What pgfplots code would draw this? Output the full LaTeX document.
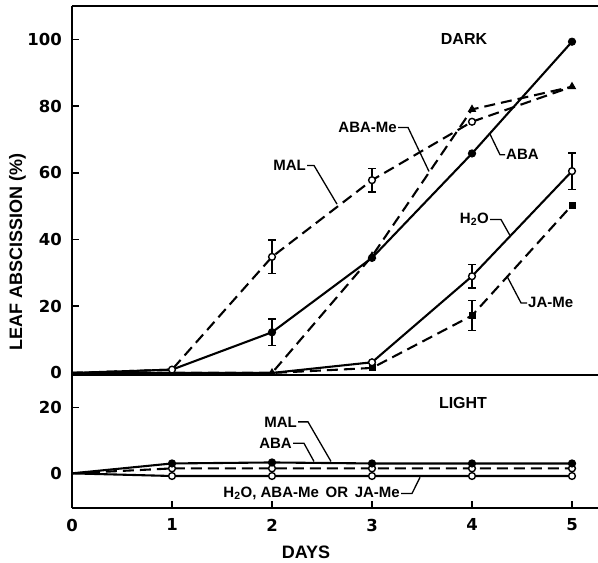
\documentclass[border=0pt]{standalone}
\usepackage{fontspec}
\setmainfont{Liberation Sans}
\newfontfamily\tickfont{DejaVu Sans}
\usepackage{pgfplots}
\pgfplotsset{compat=1.18}
\tikzset{
  ann/.style={font=\bfseries\fontsize{15bp}{15bp}\selectfont, inner sep=0pt},
  lead/.style={line width=1.3pt, black},
}
\pgfplotsset{
  panel/.style={
    scale only axis, width=526bp, xmin=0, xmax=5.26,
    axis x line*=box, axis y line*=left,
    axis line style={line width=2pt},
    tick align=inside, xtick pos=bottom, ytick pos=left,
    major tick length=7bp,
    tick style={line width=1.5pt, black},
    /pgf/number format/assume math mode=true,
    ticklabel style={font=\tickfont\bfseries\fontsize{16.5bp}{16.5bp}\selectfont, inner sep=0pt},
    yticklabel style={xshift=-10bp},
    xticklabel style={yshift=-11bp},
  },
  sl/.style={line width=2.1pt, black, solid},
  dl/.style={line width=2.1pt, black, dash pattern=on 11bp off 6bp},
  fc/.style={mark=*, mark options={solid, fill=black, draw=black, line width=1pt}, mark size=3.6bp},
  oc/.style={mark=*, mark options={solid, fill=white, draw=black, line width=1.4pt}, mark size=3.4bp},
  ft/.style={mark=triangle*, mark options={solid, fill=black, draw=black, line width=1pt}, mark size=4bp},
  fs/.style={mark=square*, mark options={solid, fill=black, draw=black, line width=1pt}, mark size=3bp},
  eb/.style={draw=none, mark=none, forget plot,
    error bars/.cd, y dir=both, y explicit,
    error bar style={draw=black, solid, line width=1.5pt},
    error mark options={draw=black, solid, rotate=90, mark size=4bp, line width=1.5pt}},
}
\begin{document}
\begin{tikzpicture}
\path[use as bounding box] (-72bp,-55.3bp) rectangle (526bp,507.7bp);
% lower panel (LIGHT)
\begin{axis}[panel, at={(0,0)}, anchor=south west, height=132.4bp,
  ymin=-10.4, ymax=29.7, ytick={0,20}, xtick={0,1,2,3,4,5}]
\addplot[sl, oc, mark indices={2,3,4,5,6}] coordinates {(0,0)(1,-0.8)(2,-0.8)(3,-0.8)(4,-0.8)(5,-0.8)};
\addplot[dl, oc, mark indices={2,3,4,5,6}] coordinates {(0,0)(1,1.5)(2,1.5)(3,1.5)(4,1.5)(5,1.5)};
\addplot[sl, fc, mark indices={2,3,4,5,6}] coordinates {(0,0)(1,3)(2,3.3)(3,3)(4,3)(5,3)};
\node[ann, font=\bfseries\fontsize{16bp}{16bp}\selectfont] at (axis cs:3.91,21.3) {LIGHT};
\node[ann, anchor=east] at (axis cs:2.25,15.6) {MAL};
\draw[lead] (axis cs:2.26,15.6) -- (axis cs:2.36,15.6) -- (axis cs:2.59,3.6);
\node[ann, anchor=east] at (axis cs:2.2,9.1) {ABA};
\draw[lead] (axis cs:2.21,9.1) -- (axis cs:2.32,9.1) -- (axis cs:2.42,3.6);
\node[ann, anchor=east] at (axis cs:3.28,-6.1) {H\textsubscript{2}O, ABA-Me\, OR\, JA-Me};
\draw[lead] (axis cs:3.29,-6.1) -- (axis cs:3.4,-6.1) -- (axis cs:3.48,-1.2);
\end{axis}
% upper panel (DARK)
\begin{axis}[panel, at={(0,132.4bp)}, anchor=south west, height=369.3bp,
  ymin=-0.7, ymax=110, ytick={0,20,40,60,80,100}, xtick=\empty]
% error bars
\addplot[eb] coordinates {(2,12.2) +- (0,4)};
\addplot[eb] coordinates {(2,34.8) +- (0,5) (3,57.8) +- (0,3.5)};
\addplot[eb] coordinates {(4,29) +- (0,3.5) (5,60.5) +- (0,5.5)};
\addplot[eb] coordinates {(4,17.2) +- (0,4.5)};
% JA-Me
\addplot[dl, fs, mark indices={4,5,6}] coordinates {(0,0)(1,0)(2,0)(3,1.5)(4,17.2)(5,50.3)};
% H2O
\addplot[sl, oc, mark indices={4,5,6}] coordinates {(0,0)(1,0)(2,0)(3,3.2)(4,29)(5,60.5)};
% ABA-Me
\addplot[dl, ft, mark indices={3,4,5,6}] coordinates {(0,0)(1,0)(2,0)(3,35)(4,79)(5,85.8)};
% MAL
\addplot[dl, oc, mark indices={2,3,4,5}] coordinates {(0,0)(1,1)(2,34.8)(3,57.8)(4,75.3)(5,85.8)};
% ABA
\addplot[sl, fc, mark indices={3,4,5,6}] coordinates {(0,0)(1,1)(2,12.2)(3,34.5)(4,65.8)(5,99.3)};
\node[ann, font=\bfseries\fontsize{16bp}{16bp}\selectfont] at (axis cs:3.92,100) {DARK};
\node[ann, anchor=east] at (axis cs:3.25,73.6) {ABA-Me};
\draw[lead] (axis cs:3.26,73.6) -- (axis cs:3.36,73.6) -- (axis cs:3.57,60.4);
\node[ann, anchor=east] at (axis cs:2.34,62.2) {MAL};
\draw[lead] (axis cs:2.35,62.2) -- (axis cs:2.42,62.2) -- (axis cs:2.65,50.6);
\draw[lead] (axis cs:4.18,71.6) -- (axis cs:4.28,65.4) -- (axis cs:4.33,65.4);
\node[ann, anchor=west] at (axis cs:4.34,65.4) {ABA};
\node[ann, anchor=east] at (axis cs:4.17,46) {H\textsubscript{2}O};
\draw[lead] (axis cs:4.18,46) -- (axis cs:4.29,46) -- (axis cs:4.38,41.2);
\draw[lead] (axis cs:4.35,29) -- (axis cs:4.49,21) -- (axis cs:4.55,21);
\node[ann, anchor=west] at (axis cs:4.56,21) {JA-Me};
\end{axis}
\node[rotate=90, font=\bfseries\fontsize{18bp}{18bp}\selectfont, inner sep=0pt] at (-54.5bp,255.7bp) {LEAF ABSCISSION (\%)};
\node[font=\bfseries\fontsize{18bp}{18bp}\selectfont, inner sep=0pt] at (234bp,-44.3bp) {DAYS};
\end{tikzpicture}
\end{document}
